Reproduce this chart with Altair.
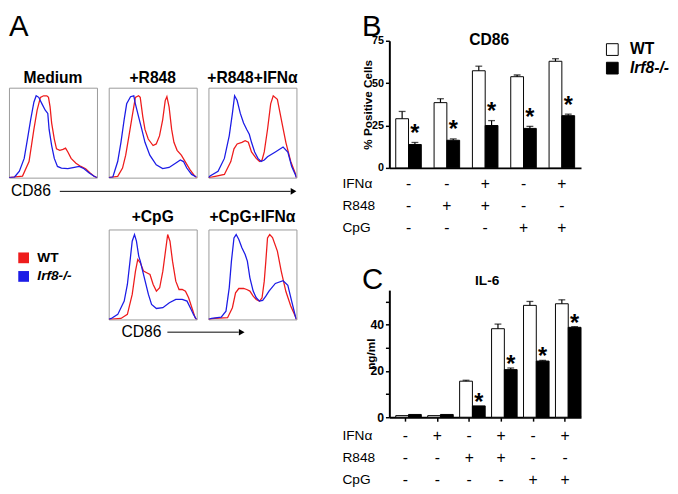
import altair as alt
import pandas as pd

FONT = "Liberation Sans"
RED = "#ee1c1c"
BLUE = "#1c1ce6"
GENOS = ["WT", "Irf8-/-"]

# ---------------- Panel A: CD86 histograms (x = % of box width, y = % of box height) ----------------
hist_titles = ["Medium", "+R848", "+R848+IFNα", "+CpG", "+CpG+IFNα"]

medium_wt_x = [0, 15.4, 22.8, 28.3, 32, 35.7, 39.3, 43, 44.9, 46.7, 48.5, 51.5, 54, 57.7, 61.4, 64.3, 66.9, 70.6, 76.1, 81.6, 87.1, 91.9, 97, 100]
medium_wt_y = [0, 1.8, 17.9, 53.6, 75, 89.3, 91, 91, 89.3, 78.6, 60.7, 42.9, 32.1, 30.4, 31.4, 32.9, 28.6, 21.4, 16.1, 12.5, 10, 5.4, 1.4, 0]
medium_ko_x = [0, 6.3, 11.8, 17.3, 21, 24.6, 28.3, 30.9, 33.8, 37.5, 41.2, 44.1, 45.6, 48.5, 51.5, 55.1, 59.6, 66.9, 74.3, 79.8, 85.3, 90.8, 96.3, 100]
medium_ko_y = [0, 0.7, 7.1, 21.4, 42.9, 64.3, 83.9, 91, 89.3, 82, 75, 71.4, 53.6, 35.7, 21.4, 12.5, 10.7, 10, 11.4, 12.5, 10, 5.4, 1.8, 0]

r848_wt_x = [0, 10.2, 15.7, 19.3, 23, 26.6, 30.3, 33.9, 35.8, 38.7, 41.2, 44.9, 50.4, 54, 57.7, 61.3, 64.2, 66.1, 68.6, 71.5, 74.1, 77.7, 82.5, 86.9, 92.3, 97.8, 100]
r848_wt_y = [0, 1.4, 10.7, 25, 46.4, 67.9, 89.3, 91, 89.3, 67.9, 53.6, 42.9, 35.7, 37.5, 46.4, 64.3, 85.7, 90, 78.6, 53.6, 39.3, 30.4, 25, 17.9, 8.9, 1.8, 0]
r848_ko_x = [0, 4.7, 10.2, 13.9, 17.5, 20.4, 24.8, 28.5, 30.3, 33.9, 37.6, 41.2, 46.7, 54, 61.3, 68.6, 75.9, 81.4, 85, 88.7, 94.2, 99.6]
r848_ko_y = [0, 0.7, 17.9, 39.3, 64.3, 82.1, 90, 91, 82.1, 67.9, 53.6, 39.3, 25, 14.3, 10, 11.4, 16.1, 19.6, 17.9, 10.7, 3.6, 0.7]

r848ifn_wt_x = [0, 3.6, 18.1, 25.4, 29, 32.6, 38, 41.7, 45.3, 48.9, 54.3, 58, 60.9, 63.4, 67.1, 70.7, 73.6, 78.3, 83.7, 88, 93.5, 98.9, 100]
r848ifn_wt_y = [0, 0.7, 3.6, 17.9, 32.1, 37.5, 39.3, 41.1, 39.3, 28.6, 21.4, 17.9, 19.6, 28.6, 53.5, 82.1, 91, 87, 60, 39, 18, 4, 0]
r848ifn_ko_x = [0, 1.8, 10.9, 18.1, 23.6, 27.2, 29.7, 32.6, 36.2, 39.9, 43.5, 46.4, 48.9, 52.5, 56.2, 59.8, 63.4, 67.1, 76, 84.8, 90.2, 94.6, 98.9, 100]
r848ifn_ko_y = [0, 1.8, 7.2, 21.4, 46.5, 71.4, 91, 85.7, 71.4, 60.7, 53.5, 48.2, 39.3, 28.6, 21.4, 17.9, 19.6, 23.2, 28.5, 34, 28.5, 12.5, 3, 0]

cpg_wt_x = [0, 13.9, 21.2, 26.7, 30.4, 33, 35.9, 39.6, 43.2, 46.9, 50.5, 54.2, 57.9, 61.5, 64.5, 67, 69.6, 72.5, 76.2, 79.9, 83.5, 87.2, 90.8, 94.5, 98.2, 100]
cpg_wt_y = [0, 1.1, 5.6, 27.8, 53.7, 66.7, 63, 53.7, 51.9, 50, 38.9, 31.5, 35.2, 53.7, 75.9, 94.4, 87, 64.8, 42.6, 33.3, 33.3, 31.5, 24.1, 13, 1.9, 0]
cpg_ko_x = [0, 2.9, 10.3, 17.6, 21.2, 24.2, 26.7, 29.3, 31.5, 34.1, 35.9, 37.7, 41.4, 45.1, 48.7, 54.2, 61.5, 68.9, 76.2, 83.5, 89, 92.7, 96.3, 98.9, 100]
cpg_ko_y = [0, 1.1, 5.6, 20.4, 38.9, 64.8, 87, 94.4, 87, 70.4, 64.8, 57.4, 42.6, 27.8, 16.7, 12.2, 13, 18.5, 22.2, 22.2, 20.4, 13, 5.6, 1.1, 0]

cpgifn_wt_x = [0, 7.2, 21.7, 27.2, 30.8, 34.5, 39.9, 43.5, 47.1, 50.8, 54.3, 58, 60.9, 63.4, 65.2, 67.1, 69.6, 72.8, 78.3, 82.6, 88, 93.5, 98.9, 100]
cpgifn_wt_y = [0, 1.1, 1.9, 13, 29.6, 34.4, 34.4, 33.3, 31.5, 25.9, 22.2, 20.4, 24.1, 42.6, 64.8, 90.7, 94.4, 91, 76, 54, 31, 15, 3, 0]
cpgifn_ko_x = [0, 3.6, 14.5, 19.9, 23.6, 26.1, 29, 31.5, 34.5, 38, 41.7, 44.2, 47.1, 50.8, 54.3, 58, 61.6, 65.2, 68.8, 76, 84.8, 90.2, 94.6, 98.9, 100]
cpgifn_ko_y = [0, 1.1, 2.6, 9.2, 35.1, 64.8, 90.7, 94.4, 88.9, 79.6, 72.2, 64.8, 46.3, 31.5, 24.1, 20.4, 21.1, 25.9, 31.5, 40, 43, 38, 20, 3, 0]

curves = {
    ("Medium", "WT"): (medium_wt_x, medium_wt_y),
    ("Medium", "Irf8-/-"): (medium_ko_x, medium_ko_y),
    ("+R848", "WT"): (r848_wt_x, r848_wt_y),
    ("+R848", "Irf8-/-"): (r848_ko_x, r848_ko_y),
    ("+R848+IFNα", "WT"): (r848ifn_wt_x, r848ifn_wt_y),
    ("+R848+IFNα", "Irf8-/-"): (r848ifn_ko_x, r848ifn_ko_y),
    ("+CpG", "WT"): (cpg_wt_x, cpg_wt_y),
    ("+CpG", "Irf8-/-"): (cpg_ko_x, cpg_ko_y),
    ("+CpG+IFNα", "WT"): (cpgifn_wt_x, cpgifn_wt_y),
    ("+CpG+IFNα", "Irf8-/-"): (cpgifn_ko_x, cpgifn_ko_y),
}

# ---------------- Panel B: CD86 % positive cells ----------------
b_groups = ["1", "2", "3", "4", "5"]
b_wt = [29.0, 38.5, 57.3, 53.8, 62.9]
b_wt_err = [4.3, 2.3, 2.7, 1.0, 1.5]
b_ko = [13.8, 16.3, 25.0, 23.3, 30.8]
b_ko_err = [1.2, 0.8, 2.9, 1.2, 0.9]
b_ko_star = ["*", "*", "*", "*", "*"]
b_ifn = ["-", "-", "+", "-", "+"]
b_r848 = ["-", "+", "+", "-", "-"]
b_cpg = ["-", "-", "-", "+", "+"]

# ---------------- Panel C: IL-6 ng/ml ----------------
c_groups = ["1", "2", "3", "4", "5", "6"]
c_wt = [0.7, 0.7, 15.6, 38.3, 48.4, 49.1]
c_wt_err = [0, 0, 0.4, 2.0, 1.7, 1.7]
c_ko = [1.2, 1.2, 4.9, 20.6, 24.3, 38.9]
c_ko_err = [0, 0, 0, 0.7, 0.3, 0.3]
c_ko_star = ["", "", "*", "*", "*", "*"]
c_ifn = ["-", "+", "-", "+", "-", "+"]
c_r848 = ["-", "-", "+", "+", "-", "-"]
c_cpg = ["-", "-", "-", "-", "+", "+"]

row_names = ["IFNα", "R848", "CpG"]

# ---------------- build tables ----------------
rows = []
for (cond, geno), (xs, ys) in curves.items():
    for a, b in zip(xs, ys):
        rows.append({"condition": cond, "genotype": geno, "x": a, "y": b})
hist_df = pd.DataFrame(rows)

line_scale = alt.Scale(domain=GENOS, range=[RED, BLUE])
NOVIEW = alt.ViewBackground(stroke="transparent")
ONE = pd.DataFrame({"a": [0]})


def txt(t, x, y, size, weight="normal", baseline="top", align="left"):
    return alt.Chart(pd.DataFrame({"t": [t]})).mark_text(
        fontSize=size, fontWeight=weight, baseline=baseline, align=align, color="black"
    ).encode(text="t:N", x=alt.value(x), y=alt.value(y))


def anchor(x1, x2, y):
    # invisible layout anchor (fixes the extent of a panel group)
    return alt.Chart(ONE).mark_rule(opacity=0, strokeWidth=1).encode(
        x=alt.value(x1), x2=alt.value(x2), y=alt.value(y))


def arrow(x1, x2, y):
    line = alt.Chart(ONE).mark_rule(color="black", strokeWidth=1).encode(
        x=alt.value(x1), x2=alt.value(x2), y=alt.value(y))
    head = alt.Chart(ONE).mark_point(shape="triangle-right", filled=True, size=45,
                                     color="black", opacity=1).encode(
        x=alt.value(x2 + 3), y=alt.value(y))
    return [line, head]


def spacer(h):
    return alt.Chart(ONE).mark_point(opacity=0).properties(width=90, height=h, view=NOVIEW)


def hist_panel(cond, title_offset, extras=()):
    lines = alt.Chart(hist_df).transform_filter(
        alt.datum.condition == cond
    ).mark_line(strokeWidth=1.3, clip=True).encode(
        x=alt.X("x:Q", scale=alt.Scale(domain=[0, 100], nice=False, zero=False), axis=None),
        y=alt.Y("y:Q", scale=alt.Scale(domain=[0, 100], nice=False), axis=None),
        color=alt.Color("genotype:N", scale=line_scale, legend=None),
    )
    return alt.layer(lines, *extras).properties(
        width=90, height=92,
        title=alt.TitleParams(cond, fontSize=16, fontWeight="bold", offset=title_offset,
                              frame="group", color="black"),
        view=alt.ViewBackground(stroke="#9a9a9a", strokeWidth=1),
    )


letter_a = alt.layer(anchor(0, 10, -35), txt("A", 0, -29, 30)).properties(
    width=90, height=28, view=NOVIEW)

h_med = hist_panel("Medium", 2, [txt("CD86", 2, 106, 16, baseline="middle")] + arrow(52, 288, 106))
h_r848 = hist_panel("+R848", 2)
h_r848ifn = hist_panel("+R848+IFNα", 2, [anchor(0, 100, 46)])
h_cpg = hist_panel("+CpG", 5, [txt("CD86", 13, 105, 16, baseline="middle")] + arrow(60, 133, 105))
h_cpgifn = hist_panel("+CpG+IFNα", 5)

italic_expr = alt.ExprRef(expr="datum.label == 'Irf8-/-' ? 'italic' : 'normal'")

legend_a = alt.Chart(pd.DataFrame({"genotype": GENOS})).mark_square(opacity=0).encode(
    color=alt.Color("genotype:N", scale=line_scale, legend=alt.Legend(
        orient="none", legendX=8, legendY=22, title=None, symbolType="square",
        symbolSize=121, symbolOpacity=1, symbolStrokeWidth=0, labelFontSize=14,
        labelFontWeight="bold", labelFontStyle=italic_expr, labelColor="black",
        rowPadding=5, labelOffset=7, padding=0)),
).properties(width=90, height=92, view=NOVIEW)

left = alt.concat(
    letter_a, spacer(28), spacer(28),
    h_med, h_r848, h_r848ifn,
    spacer(13), spacer(13), spacer(13),
    legend_a, h_cpg, h_cpgifn,
    columns=3, spacing={"row": 20, "column": 12}, bounds="flush",
).resolve_scale(color="independent")

fill_scale = alt.Scale(domain=GENOS, range=["white", "black"])


def bar_panel(groups, wt, wt_err, ko, ko_err, stars, ifn, r848, cpg, ymax, yvalues,
              ytitle, title, title_size, title_x, title_y, label_size, label_expr, xticks,
              sign_offsets, star_dy, letter, letter_y, ytitle_x, show_legend, pad_outer,
              top_anchor):
    df = pd.DataFrame({
        "group": groups + groups,
        "genotype": ["WT"] * len(groups) + ["Irf8-/-"] * len(groups),
        "value": wt + ko,
        "err": wt_err + ko_err,
        "star": [""] * len(groups) + stars,
    })
    df["upper"] = df["value"] + df["err"]
    signs = pd.DataFrame({"group": groups, "s0": ifn, "s1": r848, "s2": cpg})
    h = 130

    x_enc = alt.X("group:N", sort=groups, scale=alt.Scale(paddingInner=0, paddingOuter=0),
                  axis=alt.Axis(title=None, labels=False, ticks=xticks, tickSize=4, tickWidth=1.5,
                                tickColor="black", domainWidth=2, domainColor="black"))
    xo_enc = alt.XOffset("genotype:N", sort=GENOS,
                         scale=alt.Scale(paddingInner=0, paddingOuter=pad_outer))
    y_axis = alt.Axis(values=yvalues, title=ytitle, titleFontSize=12, titleFontWeight="bold",
                      titleColor="black", titleX=ytitle_x, titleY=h / 2, titleBaseline="middle",
                      labelFontSize=label_size, labelFontWeight="bold", labelColor="black",
                      labelExpr=label_expr, tickSize=4, tickWidth=1.5, tickColor="black",
                      domainWidth=2, domainColor="black", grid=False, labelPadding=2)
    y_scale = alt.Scale(domain=[0, ymax], nice=False)

    if show_legend:
        leg = alt.Legend(orient="none", legendX=220, legendY=1, title=None, symbolType="square",
                         symbolSize=144, symbolStrokeColor="black", symbolStrokeWidth=1,
                         labelFontSize=16, labelFontWeight="bold", labelFontStyle=italic_expr,
                         labelColor="black", rowPadding=3, labelOffset=10, padding=0)
    else:
        leg = None

    base = alt.Chart(df)
    bars = base.mark_bar(stroke="black", strokeWidth=1).encode(
        x=x_enc, xOffset=xo_enc,
        y=alt.Y("value:Q", scale=y_scale, axis=y_axis),
        fill=alt.Fill("genotype:N", scale=fill_scale, legend=leg),
    )
    err_line = base.transform_filter("datum.err > 0").mark_rule(color="black", strokeWidth=1.2).encode(
        x=x_enc, xOffset=xo_enc,
        y=alt.Y("value:Q", scale=y_scale, axis=y_axis), y2="upper:Q")
    err_cap = base.transform_filter("datum.err > 0").mark_tick(color="black", thickness=1.3, size=7).encode(
        x=x_enc, xOffset=xo_enc, y=alt.Y("upper:Q", scale=y_scale, axis=y_axis))
    star = base.mark_text(fontSize=24, fontWeight="bold", baseline="alphabetic", dy=star_dy,
                          color="black").encode(
        x=x_enc, xOffset=xo_enc, y=alt.Y("upper:Q", scale=y_scale, axis=y_axis), text="star:N")

    layers = [bars, err_line, err_cap, star]
    for i, off in enumerate(sign_offsets):
        layers.append(alt.Chart(signs).mark_text(fontSize=16, baseline="middle", color="black").encode(
            x=x_enc, y=alt.value(h + off), text=f"s{i}:N"))
        layers.append(txt(row_names[i], -48, h + off, 14, baseline="middle"))
    layers.append(txt(letter, -28, letter_y, 30))
    layers.append(txt(title, title_x, title_y, title_size, weight="bold",
                      baseline="alphabetic", align="center"))
    if top_anchor:
        layers.append(anchor(0, 10, -35))

    return alt.layer(*layers).properties(width=196, height=h, view=NOVIEW)


b_chart = bar_panel(b_groups, b_wt, b_wt_err, b_ko, b_ko_err, b_ko_star, b_ifn, b_r848, b_cpg,
                    75, [0, 25, 50, 75], "% Positive Cells", "CD86", 16, 102, 4, 11,
                    "datum.label", False, [17, 39, 61.5], -1.5, "B", -29, -22, True, 0.5, True)
c_chart = bar_panel(c_groups, c_wt, c_wt_err, c_ko, c_ko_err, c_ko_star, c_ifn, c_r848, c_cpg,
                    55, [0, 10, 20, 30, 40, 50], "ng/ml", "IL-6", 14, 100, -5, 12.5,
                    "datum.value % 20 === 0 ? datum.label : ''", True, [19.5, 42, 64], 4, "C", -25,
                    -19, False, 0.42, False)

right = alt.vconcat(b_chart, c_chart, spacing=125, bounds="flush").resolve_scale(fill="independent")

chart = alt.hconcat(left, right, spacing=35).properties(
    padding={"top": -8, "left": 0, "right": 0, "bottom": 0}
).configure(font=FONT)

chart.save("out.html", embed_options={"renderer": "svg", "actions": False})
